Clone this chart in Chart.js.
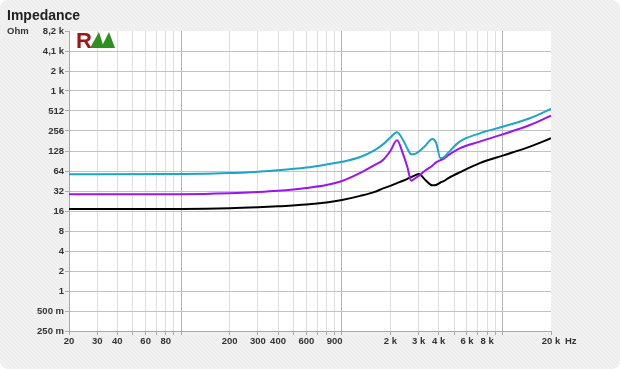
<!DOCTYPE html>
<html>
<head>
<meta charset="utf-8">
<script src="https://cdn.jsdelivr.net/npm/chart.js@4"></script>
<style>
  html, body { margin: 0; padding: 0; background: #fff; }
</style>
</head>
<body>
<canvas id="chart" width="620" height="369"></canvas>
<script>
// impedance curves, Hz -> Ohm
const freqs = [20, 100, 200, 300, 400, 600, 800, 1000, 1300, 1600, 1800, 2000, 2200, 2400, 2550, 2700, 2850, 3000, 3300, 3650, 3850, 4100, 4300, 4600, 5400, 7200, 10000, 14800, 20000]
const cyanOhm = [57, 57.5, 59.5, 62.5, 65.5, 72, 80, 88, 104, 132, 161, 204, 245, 187, 140, 114, 116, 125, 154, 194, 172, 100, 103, 122, 177, 236, 297, 398, 549]
const purpleOhm = [28.5, 28.6, 29.5, 30.8, 32.2, 35.5, 39.4, 45.3, 60, 79, 94, 128, 185, 115, 74, 45.5, 49.7, 54, 65, 77, 86.5, 93, 98, 111, 140, 177, 228, 315, 435]
const blackOhm = [17.1, 17.2, 17.6, 18.2, 18.8, 20, 21.5, 23.4, 27, 31, 35, 38.2, 42, 45.7, 48.7, 52, 55, 57.5, 47, 39, 39.5, 43, 45, 50, 61, 84, 109, 149, 199]

const yTickValues = [0.25, 0.5, 1, 2, 4, 8, 16, 32, 64, 128, 256, 512, 1024, 2048, 4096, 8192]
const yTickLabels = ['250 m', '500 m', '1', '2', '4', '8', '16', '32', '64', '128', '256', '512', '1 k', '2 k', '4,1 k', '8,2 k']
const xGridValues = [20, 30, 40, 50, 60, 70, 80, 90, 100, 200, 300, 400, 500, 600, 700, 800, 900, 1000,
  2000, 3000, 4000, 5000, 6000, 7000, 8000, 9000, 10000, 20000]
const xMajorValues = [100, 1000, 10000]
const xTickLabels = {
  20: '20', 30: '30', 40: '40', 60: '60', 80: '80',
  200: '200', 300: '300', 400: '400', 600: '600', 900: '900',
  2000: '2 k', 3000: '3 k', 4000: '4 k', 6000: '6 k', 8000: '8 k', 20000: '20 k'
}

const FONT = '"Liberation Sans", Arial, sans-serif'

function toPoints (values) {
  return values.map((v, i) => ({ x: freqs[i], y: v }))
}

const decor = {
  id: 'decor',
  beforeDraw (chart) {
    const ctx = chart.ctx
    const { left, top, right, bottom } = chart.chartArea
    ctx.save()
    ctx.fillStyle = '#ffffff'
    ctx.fillRect(0, 0, chart.width, chart.height)
    ctx.beginPath()
    ctx.roundRect(0, 0, chart.width, chart.height, 8)
    ctx.fillStyle = '#f1f1f1'
    ctx.fill()
    ctx.clip()
    // faint diagonal hatching
    ctx.strokeStyle = 'rgba(0,0,0,0.025)'
    ctx.lineWidth = 1
    for (let i = -chart.height; i < chart.width; i += 4) {
      ctx.beginPath()
      ctx.moveTo(i, 0)
      ctx.lineTo(i + chart.height, chart.height)
      ctx.stroke()
    }
    ctx.fillStyle = '#ffffff'
    ctx.fillRect(left, top, right - left, bottom - top)
    ctx.restore()
  },
  afterDraw (chart) {
    const ctx = chart.ctx
    const { left, top, right, bottom } = chart.chartArea
    ctx.save()
    ctx.fillStyle = '#222'
    ctx.textBaseline = 'alphabetic'
    ctx.textAlign = 'left'
    ctx.font = 'bold 14px ' + FONT
    ctx.fillText('Impedance', 7, 20)
    ctx.font = 'bold 9.5px ' + FONT
    ctx.fillStyle = '#333'
    ctx.textBaseline = 'middle'
    ctx.fillText('Ohm', 7, top)
    ctx.fillText('Hz', right + 14, bottom + 10)

    // logo
    ctx.font = 'bold 22px ' + FONT
    ctx.fillStyle = '#a01616'
    ctx.textBaseline = 'alphabetic'
    ctx.fillText('R', left + 7, top + 17)
    ctx.fillStyle = '#2f8f1f'
    ctx.beginPath()
    ctx.moveTo(left + 21, top + 17)
    ctx.lineTo(left + 30, top + 1)
    ctx.lineTo(left + 35, top + 17)
    ctx.closePath()
    ctx.fill()
    ctx.beginPath()
    ctx.moveTo(left + 32, top + 17)
    ctx.lineTo(left + 40, top + 1)
    ctx.lineTo(left + 46, top + 17)
    ctx.closePath()
    ctx.fill()
    ctx.restore()
  }
}

const chart = new Chart(document.getElementById('chart'), {
  type: 'line',
  data: {
    datasets: [
      { label: 'cyan', data: toPoints(cyanOhm), borderColor: '#1ba5c9' },
      { label: 'purple', data: toPoints(purpleOhm), borderColor: '#9a14f2' },
      { label: 'black', data: toPoints(blackOhm), borderColor: '#000000' }
    ]
  },
  options: {
    responsive: false,
    animation: false,
    layout: { padding: { left: 0, top: 31, right: 69, bottom: 0 } },
    elements: {
      point: { radius: 0 },
      line: { borderWidth: 2, cubicInterpolationMode: 'monotone', fill: false }
    },
    plugins: {
      legend: { display: false },
      title: { display: false },
      tooltip: { enabled: false }
    },
    scales: {
      x: {
        type: 'logarithmic',
        min: 20,
        max: 20000,
        afterBuildTicks: s => { s.ticks = xGridValues.map(v => ({ value: v })) },
        afterFit: s => { s.height = 38 },
        grid: {
          color: c => {
            const v = c.tick && c.tick.value
            if (v === 20000) return 'rgba(0,0,0,0)'
            return xMajorValues.includes(v) ? '#b4b4b4' : '#dedede'
          },
          tickColor: '#aaaaaa',
          tickLength: 4
        },
        border: { color: '#aaaaaa' },
        ticks: {
          autoSkip: false,
          maxRotation: 0,
          padding: 1,
          color: '#333',
          font: { family: FONT, size: 9.5, weight: 'bold' },
          callback: v => xTickLabels[v] || ''
        }
      },
      y: {
        type: 'logarithmic',
        min: 0.25,
        max: 8192,
        afterBuildTicks: s => { s.ticks = yTickValues.map(v => ({ value: v })) },
        afterFit: s => { s.width = 69 },
        grid: {
          color: c => (c.tick && c.tick.value === 8192) ? 'rgba(0,0,0,0)' : '#c2c2c2',
          tickColor: '#aaaaaa',
          tickLength: 4
        },
        border: { color: '#aaaaaa' },
        ticks: {
          padding: 1,
          color: '#333',
          font: { family: FONT, size: 9.5, weight: 'bold' },
          callback: v => {
            const i = yTickValues.indexOf(v)
            return i >= 0 ? yTickLabels[i] : ''
          }
        }
      }
    }
  },
  plugins: [decor]
})
</script>
</body>
</html>
